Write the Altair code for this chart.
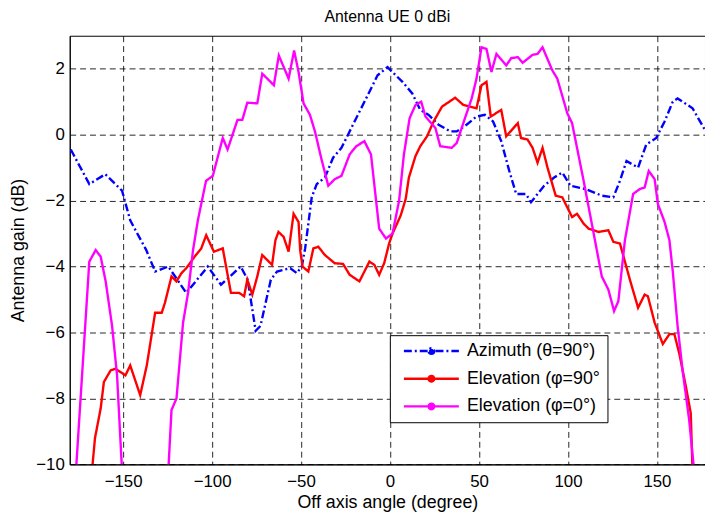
import altair as alt
import pandas as pd

AZ = "Azimuth (θ=90°)"
EL90 = "Elevation (φ=90°"
EL0 = "Elevation (φ=0°)"

az_x = [-179.4, -169, -160, -150.6, -146, -141, -137, -132, -124.6, -114.5, -102.4, -95, -83.9, -80,
        -75.5, -72.8, -67, -63.5, -56, -52.4, -49.6, -47.7, -44, -41.2, -36.6, -32, -27.3, -23.6, -19,
        -12.5, -7, -1.4, 0.4, 7, 12.5, 17, 21.7, 27.3, 33.8, 37.5, 43, 48.6, 53.3, 57.9, 62.5, 67, 70.9,
        76.4, 79.2, 86.6, 92.2, 96.8, 101.4, 109.8, 119, 125.5, 129.2, 132.9, 139.4, 144, 149.6, 154.3,
        158.9, 161.6, 170, 177.4]
az_y = [-0.45, -1.5, -1.2, -1.7, -2.6, -3.1, -3.5, -4.15, -4.0, -4.8, -4.0, -4.55, -4.0, -4.4,
        -5.95, -5.8, -4.4, -4.15, -4.05, -4.2, -4.0, -3.45, -1.9, -1.5, -1.3, -0.7, -0.4, 0, 0.5,
        1.2, 1.8, 2.05, 1.95, 1.6, 1.25, 0.75, 0.6, 0.3, 0.1, 0.1, 0.3, 0.55, 0.6, 0.4, -0.2, -1.1, -1.8,
        -1.8, -2.05, -1.55, -1.3, -1.15, -1.55, -1.65, -1.85, -1.9, -1.4, -0.8, -1.0, -0.3, -0.1, 0.4,
        1.0, 1.1, 0.8, 0.1]

el90_x = [-167.5, -165.8, -162.6, -160.8, -157, -154.3, -148.7, -146, -140.4, -136.7, -132, -128.3,
          -126.5, -122.8, -120, -117.2, -114.5, -109.8, -106.1, -103.3, -99, -94, -89.4, -84.8, -82,
          -80.2, -77.4, -74.6, -71.8, -66.3, -64.4, -62.7, -59.8, -57, -54.2, -51.4, -50.5, -49.2,
          -45.9, -43.1, -40.3, -36.6, -31.1, -26.4, -22.7, -17.2, -11.6, -8.8, -6.1, -3.3, -0.5, 1.4,
          6, 8.8, 10.6, 14.3, 17, 20.8, 24.5, 29.2, 34.7, 36.6, 41.2, 44.9, 48.6, 51.4, 54.2, 56.6,
          62.5, 65.3, 71.8, 73.6, 77.3, 80.1, 82.9, 85.7, 88.5, 93.1, 96.8, 102.3, 105.1, 108.8, 111.6,
          117.2, 122.7, 125.5, 129.2, 134.8, 139.4, 143.1, 144.9, 148.7, 153.3, 157, 159.8, 162.6,
          166.3, 169, 170]
el90_y = [-10.2, -9.2, -8.3, -7.5, -7.15, -7.1, -7.3, -7.0, -7.9, -7.0, -5.4, -5.4,
          -5.1, -4.3, -4.45, -4.2, -4.05, -3.7, -3.45, -3.05, -3.55, -3.45, -4.8, -4.8, -4.9,
          -4.4, -4.85, -4.3, -3.65, -3.95, -3.2, -2.95, -3.1, -3.55, -2.4, -2.65, -3.5, -4.0,
          -4.15, -3.45, -3.4, -3.65, -3.9, -3.92, -4.25, -4.45, -3.85, -3.95, -4.25, -3.9, -3.3, -3.0,
          -2.45, -1.95, -1.3, -0.65, -0.35, -0.05, 0.4, 0.85, 1.05, 1.12, 0.9, 0.85, 0.8, 1.5, 1.6, 0.55,
          0.75, -0.05, 0.35, -0.1, -0.15, -0.4, -0.85, -0.4, -1.0, -1.85, -1.9, -2.5, -2.4, -2.7, -2.85,
          -2.95, -2.9, -3.25, -3.3, -4.4, -5.25, -4.85, -4.9, -5.7, -6.35, -6.05, -6.05, -6.65,
          -7.65, -8.45, -10.2]

el0a_x = [-176.5, -169, -165.4, -162.6, -159.8, -156.2, -153.4, -150.6]
el0a_y = [-10.2, -3.85, -3.5, -3.7, -4.45, -5.8, -7.3, -10.2]

el0b_x = [-124.6, -122.8, -120, -116.3, -113.5, -110.7, -108, -103.4, -99.6, -94, -91.3, -85.7, -83,
          -80.2, -74.6, -71.8, -65.3, -62.5, -57, -53.9, -51.4, -48.6, -45, -42.2, -38.5, -34.7, -31.1,
          -27.3, -22.7, -19, -14.4, -10.7, -6.1, -2.3, 1.4, 5.1, 7.8, 11, 14.3, 17.5, 19.9, 25.5, 28.2,
          34.7, 37.5, 42.1, 45.9, 48.6, 51.4, 54.2, 57, 59.8, 65.3, 68.1, 71.8, 74.5, 80.1, 82.9, 85.7,
          91.2, 94, 99.6, 102.3, 108.8, 115.5, 119, 122.7, 125.9, 128.3, 132, 136.6, 140.3, 143.1,
          145.4, 148.7, 150.5, 154.3, 157, 158.9, 161.6, 164.4, 168.1, 170.9]
el0b_y = [-10.2, -8.35, -8.0, -5.7, -4.8, -3.5, -2.6, -1.4, -1.25, -0.1, -0.45, 0.45, 0.45,
          0.97, 0.95, 1.85, 1.5, 2.4, 1.7, 2.55, 1.9, 0.95, 0.6, 0.1, -0.75, -1.55, -1.35,
          -1.25, -0.6, -0.35, -0.2, -0.6, -2.85, -3.15, -3.0, -2.0, -0.6, 0.5, 0.9, 1.0, 0.55, 0.2, -0.35,
          -0.4, -0.25, 0.5, 1.1, 1.7, 2.65, 2.6, 1.9, 2.45, 2.1, 2.32, 2.35, 2.18, 2.42, 2.45, 2.65,
          1.95, 1.7, 0.65, 0.35, -1.4, -3.3, -4.3, -4.7, -5.35, -5.05, -3.2, -1.8, -1.65, -1.6,
          -1.1, -1.35, -2.1, -2.65, -3.2, -4.15, -5.8, -7.15, -8.65, -10.2]

x_ticks = [-150, -100, -50, 0, 50, 100, 150]
y_ticks = [-10, -8, -6, -4, -2, 0, 2]

rows = []
for xs, ys, s, seg in [(az_x, az_y, AZ, "a"), (el90_x, el90_y, EL90, "b"),
                       (el0a_x, el0a_y, EL0, "c1"), (el0b_x, el0b_y, EL0, "c2")]:
    for x, y in zip(xs, ys):
        rows.append({"angle": x, "gain": y, "series": s, "seg": seg})
df = pd.DataFrame(rows)

order = [AZ, EL90, EL0]
colors = ["#0000ff", "#ff0000", "#ff00ff"]
dashes = [[8, 3, 2, 3], [1, 0], [1, 0]]
FONT = "Liberation Sans"

# legend glyph: a line with a dot in its middle (path units scaled by 6 px)
sym = ("M-4.63,0L4.63,0"
       "M0.47,0A0.47,0.47,0,1,1,-0.47,0A0.47,0.47,0,1,1,0.47,0"
       "M0.2,0A0.2,0.2,0,1,1,-0.2,0A0.2,0.2,0,1,1,0.2,0")


def leg():
    return alt.Legend(title=None, orient="none", legendX=323.6, legendY=302.7,
                      symbolType=sym, symbolSize=144, symbolStrokeWidth=2.4, symbolOffset=26,
                      labelFont=FONT, labelFontSize=18, labelColor="black", labelOffset=27,
                      strokeColor="black", fillColor="white", padding=7, rowPadding=10,
                      cornerRadius=0)


chart = alt.Chart(df).mark_line(clip=True, strokeWidth=2.4).encode(
    x=alt.X("angle:Q", scale=alt.Scale(domain=[-180, 177], nice=False, zero=False),
            axis=alt.Axis(values=x_ticks, title="Off axis angle (degree)")),
    y=alt.Y("gain:Q", scale=alt.Scale(domain=[-10, 3], nice=False, zero=False),
            axis=alt.Axis(values=y_ticks, title="Antenna gain (dB)")),
    color=alt.Color("series:N", scale=alt.Scale(domain=order, range=colors), legend=leg()),
    strokeDash=alt.StrokeDash("series:N", scale=alt.Scale(domain=order, range=dashes), legend=leg()),
    detail="seg:N",
).properties(
    width=642.2, height=433.3,
    title=alt.TitleParams("Antenna UE 0 dBi", font=FONT, fontSize=16, fontWeight="normal",
                          color="black", offset=10.8, anchor="middle"),
    autosize=alt.AutoSizeParams(type="none"),
    padding={"left": 62.4, "top": 25.3, "right": 0, "bottom": 46},
).configure_view(stroke="black", strokeWidth=1).configure_axis(
    domainColor="black", gridColor="black", gridDash=[6, 4], gridOpacity=0.85,
    ticks=False, labelFont=FONT, labelFontSize=17, labelColor="black",
    titleFont=FONT, titleFontSize=18, titleFontWeight="normal", titleColor="black",
).configure_axisX(labelPadding=9, titlePadding=5).configure_axisY(labelPadding=5.5, titlePadding=8)

chart.save("out.html", embed_options={"renderer": "svg", "actions": False})
